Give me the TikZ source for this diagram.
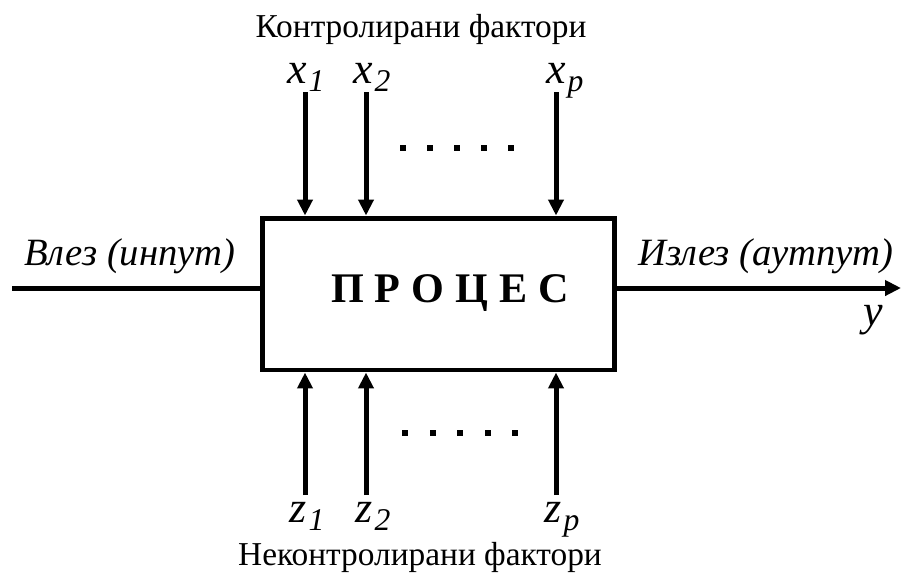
\documentclass[tikz,border=0pt]{standalone}
\usepackage{fontspec}
\setmainfont{LiberationSerif}[Extension=.ttf, UprightFont=*-Regular, ItalicFont=*-Italic, BoldFont=*-Bold, BoldItalicFont=*-BoldItalic]
\usetikzlibrary{arrows.meta}
\newcommand{\idx}[1]{\kern1pt\raisebox{-5pt}{\fontsize{18}{20}\selectfont #1}}

\begin{document}
\begin{tikzpicture}[x=0.02cm, y=-0.02cm,
    flow/.style={line width=0.1cm, -{Triangle[length=0.32cm,width=0.3cm]}},
    lbl/.style={font=\fontsize{22}{26}\selectfont\itshape, inner sep=0pt, anchor=base},
    var/.style={font=\fontsize{25}{28}\selectfont\itshape, inner sep=0pt, anchor=base},
    factlbl/.style={font=\fontsize{19}{22}\selectfont, inner sep=0pt, anchor=base,
      text height=0.7em, text depth=0.2em}]
	\useasboundingbox (0,0) rectangle (901,576);
	\node[draw, line width=0.1cm, minimum width=7.06cm, minimum height=3.04cm] (proc) at (438.5,294) {};
	\node[font=\fontsize{24}{28}\selectfont\bfseries, anchor=base] (title) at (450,302) {П\hspace{0.22cm}Р\hspace{0.22cm}О\hspace{0.22cm}Ц\hspace{0.22cm}Е\hspace{0.22cm}С};
	% input and output
	\coordinate (in) at (12,288);
	\coordinate (out) at (901,288);
	\draw[line width=0.1cm] (in) -- (in -| proc.west);
	\draw[flow] (out -| proc.east) -- (out);
	\node[lbl] (inlbl) at (130,265) {Влез (инпут)};
	\node[lbl] (outlbl) at (766,265) {Излез (аутпут)};
	\node[var] (ylbl) at (873,325) {y};
	% controlled factors
	\node[factlbl] (ctrl) at (421,37) {Контролирани фактори};
	\node[var] (x1) at (306,83) {x\idx{1}};
	\node[var] (x2) at (372,83) {x\idx{2}};
	\node[var] (xp) at (565,83) {x\idx{p}};
	\coordinate (a1) at (305,92);
	\coordinate (a2) at (366,92);
	\coordinate (ap) at (556,92);
	\draw[flow] (a1) -- (a1 |- proc.north);
	\draw[flow] (a2) -- (a2 |- proc.north);
	\draw[flow] (ap) -- (ap |- proc.north);
	\foreach \i in {0,...,4}
		\fill ({400+27*\i},145) rectangle +(6,6);
	% uncontrolled factors
	\node[var] (z1) at (307,522) {z\idx{1}};
	\node[var] (z2) at (373,522) {z\idx{2}};
	\node[var] (zp) at (562,522) {z\idx{p}};
	\coordinate (b1) at (305,495);
	\coordinate (b2) at (366,495);
	\coordinate (bp) at (556,495);
	\draw[flow] (b1) -- (b1 |- proc.south);
	\draw[flow] (b2) -- (b2 |- proc.south);
	\draw[flow] (bp) -- (bp |- proc.south);
	\foreach \i in {0,...,4}
		\fill ({402+27.5*\i},430) rectangle +(6,6);
	\node[factlbl] (unctrl) at (420,565) {Неконтролирани фактори};
\end{tikzpicture}
\end{document}
